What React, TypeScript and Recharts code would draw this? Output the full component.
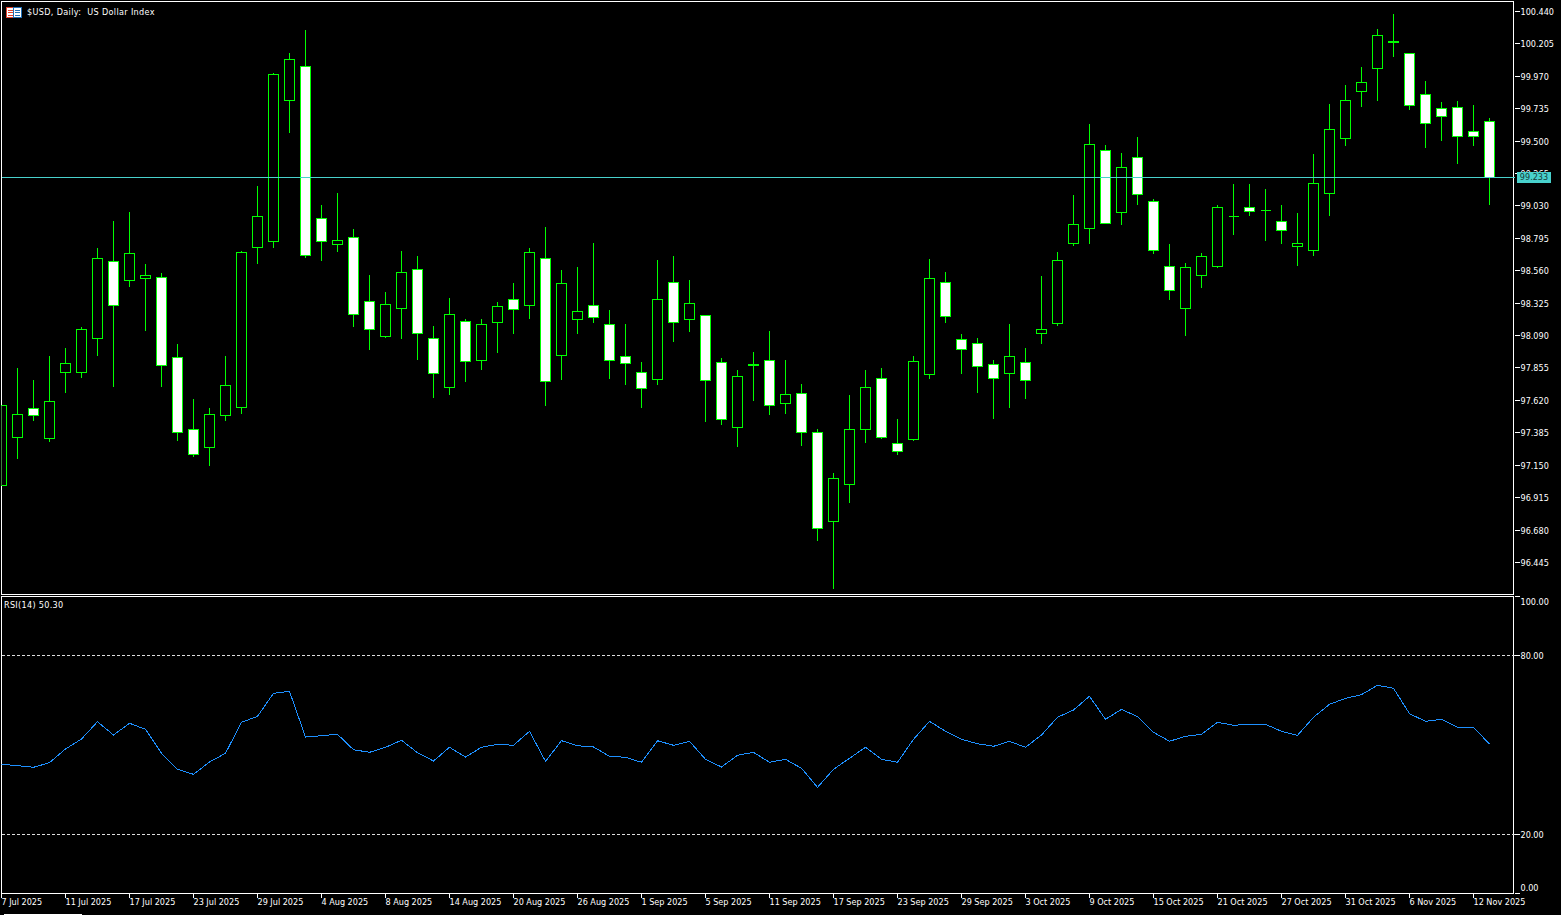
import React from 'react';
import { ComposedChart, Bar, Line, XAxis, YAxis, ReferenceLine } from 'recharts';

const CHART_FONT = '"DejaVu Sans Condensed", "DejaVu Sans", sans-serif';
const UP_COLOR = '#00ff00';
const BID_COLOR = '#48d1cc';

const opens = [
  97.001, 97.354, 97.562, 97.342, 97.821, 97.821, 98.067, 98.628, 98.491, 98.505, 98.512, 97.932, 97.410, 97.277, 97.512, 97.570,
  98.730, 98.773, 99.796, 100.043, 98.940, 98.752, 98.803, 98.338, 98.084, 98.288, 98.570, 98.070, 97.715, 98.193, 97.911, 98.186,
  98.353, 98.309, 98.650, 97.947, 98.208, 98.309, 98.171, 97.940, 97.823, 97.773, 98.476, 98.208, 98.237, 97.896, 97.425, 97.882,
  97.911, 97.599, 97.671, 97.388, 96.743, 97.011, 97.410, 97.780, 97.309, 97.338, 97.809, 98.476, 98.063, 98.034, 97.882, 97.816,
  97.896, 98.106, 98.179, 98.759, 98.868, 99.433, 98.984, 99.383, 99.063, 98.592, 98.288, 98.527, 98.592, 98.955, 99.020, 98.998,
  98.918, 98.737, 98.708, 99.122, 99.520, 99.861, 100.028, 100.222, 100.137, 99.840, 99.738, 99.745, 99.571, 99.644,
];
const closes = [
  97.585, 97.521, 97.509, 97.613, 97.889, 98.135, 98.650, 98.309, 98.686, 98.527, 97.874, 97.388, 97.229, 97.519, 97.729, 98.694,
  98.955, 99.985, 100.093, 98.672, 98.773, 98.781, 98.244, 98.135, 98.317, 98.549, 98.106, 97.816, 98.244, 97.903, 98.171, 98.302,
  98.280, 98.694, 97.758, 98.469, 98.266, 98.222, 97.911, 97.889, 97.707, 98.353, 98.186, 98.324, 97.765, 97.482, 97.794, 97.875,
  97.584, 97.664, 97.388, 96.692, 97.055, 97.410, 97.715, 97.352, 97.251, 97.903, 98.505, 98.227, 97.990, 97.867, 97.780, 97.940,
  97.765, 98.135, 98.636, 98.897, 99.477, 98.904, 99.310, 99.114, 98.708, 98.418, 98.585, 98.665, 99.020, 98.955, 98.991, 98.998,
  98.853, 98.756, 99.194, 99.586, 99.796, 99.927, 100.267, 100.215, 99.760, 99.629, 99.680, 99.535, 99.535, 99.233,
];
const highs = [
  97.590, 97.862, 97.775, 97.949, 98.007, 98.159, 98.725, 98.928, 98.993, 98.616, 98.544, 98.029, 97.637, 97.565, 97.949, 98.710,
  99.175, 100.001, 100.146, 100.313, 99.037, 99.124, 98.870, 98.536, 98.413, 98.710, 98.667, 98.166, 98.367, 98.217, 98.217, 98.340,
  98.478, 98.732, 98.884, 98.572, 98.594, 98.768, 98.282, 98.181, 97.905, 98.638, 98.674, 98.493, 98.246, 97.934, 97.847, 97.978,
  98.130, 97.920, 97.739, 97.419, 97.098, 97.659, 97.847, 97.855, 97.485, 97.949, 98.652, 98.558, 98.108, 98.079, 97.920, 98.181,
  98.007, 98.529, 98.703, 99.116, 99.631, 99.472, 99.414, 99.537, 99.087, 98.759, 98.621, 98.689, 99.037, 99.196, 99.196, 99.160,
  99.044, 98.986, 99.407, 99.776, 99.907, 100.038, 100.320, 100.429, 100.144, 99.943, 99.789, 99.798, 99.762, 99.668,
];
const lows = [
  97.000, 97.202, 97.472, 97.320, 97.676, 97.784, 97.949, 97.724, 98.444, 98.125, 97.724, 97.327, 97.211, 97.146, 97.472, 97.523,
  98.611, 98.727, 99.561, 98.655, 98.633, 98.698, 98.154, 97.987, 98.074, 98.067, 97.915, 97.639, 97.661, 97.755, 97.842, 97.966,
  98.103, 98.212, 97.581, 97.770, 98.103, 98.183, 97.777, 97.734, 97.567, 97.734, 98.045, 98.118, 97.465, 97.443, 97.284, 97.618,
  97.516, 97.523, 97.291, 96.602, 96.254, 96.878, 97.313, 97.340, 97.226, 97.327, 97.777, 98.183, 97.813, 97.676, 97.487, 97.567,
  97.632, 98.031, 98.161, 98.742, 98.761, 98.902, 98.892, 99.037, 98.683, 98.350, 98.089, 98.437, 98.582, 98.821, 98.964, 98.778,
  98.756, 98.596, 98.669, 98.959, 99.467, 99.750, 99.793, 100.112, 99.728, 99.452, 99.503, 99.336, 99.467, 99.039,
];
const rsiValues = [
  43.50, 43.03, 42.49, 44.04, 48.65, 52.02, 57.85, 53.37, 57.31, 55.29, 47.21, 41.82, 40.13, 44.28, 47.21, 57.64,
  59.66, 67.41, 68.08, 52.69, 53.13, 53.60, 48.42, 47.54, 49.23, 51.58, 47.41, 44.61, 49.23, 45.96, 49.23, 50.24,
  49.90, 54.61, 44.51, 51.45, 49.76, 49.33, 46.20, 45.86, 44.18, 51.45, 49.90, 51.25, 45.19, 42.59, 46.53, 47.54,
  44.18, 45.19, 42.15, 35.76, 41.82, 45.52, 49.23, 45.19, 44.18, 51.92, 57.98, 54.61, 51.92, 50.44, 49.56, 51.25,
  49.23, 53.37, 59.33, 61.78, 66.40, 58.65, 62.02, 59.53, 54.28, 51.25, 52.93, 53.60, 57.64, 56.63, 56.97, 56.97,
  54.61, 53.27, 59.33, 63.70, 65.72, 66.94, 70.10, 69.09, 60.54, 57.98, 58.65, 55.96, 55.96, 50.30,
];

const priceTicks = [
  96.445, 96.68, 96.915, 97.15, 97.385, 97.62, 97.855, 98.09, 98.325, 98.56, 98.795, 99.03, 99.265, 99.5, 99.735, 99.97, 100.205, 100.44,
];
const rsiTicks = [0, 20, 80, 100];
const dateLabels = [
  '7 Jul 2025', '11 Jul 2025', '17 Jul 2025', '23 Jul 2025', '29 Jul 2025', '4 Aug 2025', '8 Aug 2025', '14 Aug 2025',
  '20 Aug 2025', '26 Aug 2025', '1 Sep 2025', '5 Sep 2025', '11 Sep 2025', '17 Sep 2025', '23 Sep 2025', '29 Sep 2025',
  '3 Oct 2025', '9 Oct 2025', '15 Oct 2025', '21 Oct 2025', '27 Oct 2025', '31 Oct 2025', '6 Nov 2025', '12 Nov 2025',
];
const dateTicks = dateLabels.map((_, n) => n * 4); // a label every 4 bars

const BID_PRICE = 99.233;
const PRICE_DOMAIN = [96.2123, 100.5125];
const BAR_DOMAIN = [0, 94.5625]; // empty room to the right of the last bar

const rows = opens.map((open, i) => ({
  i,
  open,
  close: closes[i],
  high: highs[i],
  low: lows[i],
  range: [lows[i], highs[i]],
  rsi: rsiValues[i],
}));

// Bar gives us the high-low box, open and close are placed inside it
const Candle = (props: any) => {
  const { x, y, width, height, payload } = props;
  const yOf = (price: number) => y + ((payload.high - price) / (payload.high - payload.low)) * height;
  const px = (v: number) => Math.floor(v) + 0.5;
  const cx = px(x + width / 2);
  const top = px(yOf(Math.max(payload.open, payload.close)));
  const bottom = px(yOf(Math.min(payload.open, payload.close)));
  const bullish = payload.close >= payload.open;
  return (
    <g shapeRendering="crispEdges">
      <line x1={cx} x2={cx} y1={px(y)} y2={px(y + height)} stroke={UP_COLOR} />
      <path
        d={`M${cx - 5} ${top}H${cx + 5}V${bottom}H${cx - 5}Z`}
        fill={bullish ? '#000' : '#fff'}
        stroke={UP_COLOR}
      />
    </g>
  );
};

const PriceTick = ({ x, y, payload }: any) => (
  <text x={x} y={y} dy={3.5} textAnchor="start" fill="#fff" fontSize={9} fontFamily={CHART_FONT}>
    {payload.value.toFixed(3)}
  </text>
);

// the 0 and 100 labels are pushed inside the pane like the terminal does
const RsiTick = ({ x, y, payload }: any) => {
  const shift = payload.value === 100 ? 5 : payload.value === 0 ? -6 : 0;
  return (
    <text x={x} y={y + shift} dy={3.5} textAnchor="start" fill="#fff" fontSize={9} fontFamily={CHART_FONT}>
      {payload.value.toFixed(2)}
    </text>
  );
};

const DateTick = ({ x, y, payload }: any) => (
  <text x={x} y={y} dy={6.5} textAnchor="start" fill="#fff" fontSize={9} fontFamily={CHART_FONT}>
    {dateLabels[payload.value / 4]}
  </text>
);

const FlagIcon = () => (
  <svg width={16} height={11} style={{ position: 'absolute', left: 6, top: 7 }} shapeRendering="crispEdges">
    <rect x={0.5} y={0.5} width={7} height={10} fill="#fff" stroke="#e0402a" />
    <rect x={7.5} y={0.5} width={8} height={10} fill="#fff" stroke="#1f6fb5" />
    <path d="M2 3H7M2 5.5H7M2 8H7" stroke="#e0402a" />
    <path d="M9 3H14M9 5.5H14M9 8H14" stroke="#1f6fb5" />
  </svg>
);

const paneStyle: React.CSSProperties = {
  position: 'absolute',
  left: 1,
  width: 1513,
  borderStyle: 'solid',
  borderColor: '#fff',
  borderWidth: 1,
  boxSizing: 'border-box',
};

const captionStyle: React.CSSProperties = {
  position: 'absolute',
  color: '#fff',
  fontFamily: CHART_FONT,
  fontSize: 9,
  lineHeight: '11px',
  whiteSpace: 'pre',
};

export default function App() {
  return (
    <div style={{ position: 'fixed', left: 0, top: 0, width: 1561, height: 915, background: '#000', overflow: 'hidden' }}>
      <div style={{ ...paneStyle, top: 1, height: 594 }} />
      <div style={{ ...paneStyle, top: 596, height: 298 }} />

      <div style={{ position: 'absolute', left: 0, top: 0 }}>
        <ComposedChart width={1561} height={594.5} data={rows} margin={{ top: 1.5, right: 0, bottom: 0, left: 1.5 }}>
          <XAxis dataKey="i" type="number" domain={BAR_DOMAIN} allowDataOverflow hide />
          <YAxis
            orientation="right"
            width={46.5}
            domain={PRICE_DOMAIN}
            ticks={priceTicks}
            interval={0}
            axisLine={false}
            tickLine={{ stroke: '#fff', shapeRendering: 'crispEdges' }}
            tickSize={5}
            tickMargin={1}
            tick={<PriceTick />}
          />
          <ReferenceLine y={BID_PRICE} stroke={BID_COLOR} shapeRendering="crispEdges" />
          <Bar dataKey="range" barSize={11} shape={<Candle />} isAnimationActive={false} />
        </ComposedChart>
      </div>

      <div style={{ position: 'absolute', left: 0, top: 596 }}>
        <ComposedChart width={1561} height={319} data={rows} margin={{ top: 0.5, right: 0, bottom: 0, left: 1.5 }}>
          <XAxis
            dataKey="i"
            type="number"
            domain={BAR_DOMAIN}
            allowDataOverflow
            ticks={dateTicks}
            interval={0}
            height={21.5}
            axisLine={false}
            tickLine={{ stroke: '#fff', shapeRendering: 'crispEdges' }}
            tickSize={4}
            tickMargin={1}
            tick={<DateTick />}
          />
          <YAxis
            orientation="right"
            width={46.5}
            domain={[0, 100]}
            ticks={rsiTicks}
            interval={0}
            axisLine={false}
            tickLine={{ stroke: '#fff', shapeRendering: 'crispEdges' }}
            tickSize={5}
            tickMargin={1}
            tick={<RsiTick />}
          />
          <ReferenceLine y={80} stroke="#ddd" strokeDasharray="3 2" shapeRendering="crispEdges" />
          <ReferenceLine y={20} stroke="#ddd" strokeDasharray="3 2" shapeRendering="crispEdges" />
          <Line
            dataKey="rsi"
            type="linear"
            stroke="#1e90ff"
            strokeWidth={1}
            dot={false}
            shapeRendering="crispEdges"
            isAnimationActive={false}
          />
        </ComposedChart>
      </div>

      <FlagIcon />
      <div style={{ ...captionStyle, left: 27, top: 7, letterSpacing: 0.35 }}>{'$USD, Daily:  US Dollar Index'}</div>
      <div style={{ ...captionStyle, left: 4, top: 600, letterSpacing: 0.3 }}>RSI(14) 50.30</div>
      <div
        style={{
          ...captionStyle,
          left: 1517,
          top: 172,
          width: 34,
          height: 11,
          background: BID_COLOR,
          color: '#1a3a3a',
          textAlign: 'center',
        }}
      >
        {BID_PRICE.toFixed(3)}
      </div>
      <div style={{ position: 'absolute', left: 4, top: 914, width: 78, height: 1, background: '#fff' }} />
    </div>
  );
}
